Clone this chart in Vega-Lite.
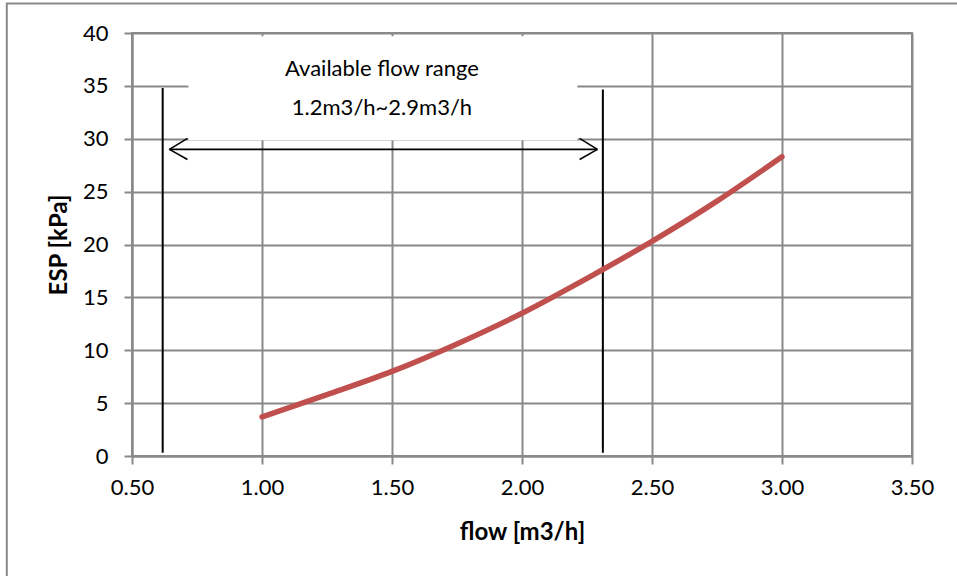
{
  "$schema": "https://vega.github.io/schema/vega-lite/v6.json",
  "autosize": {"type": "none"},
  "width": 780,
  "height": 423,
  "padding": {"left": 132, "top": 33, "right": 45, "bottom": 120},
  "background": "white",
  "config": {
    "font": "Lato",
    "view": {"stroke": "#898989", "strokeWidth": 2},
    "axis": {
      "gridColor": "#898989",
      "gridWidth": 2,
      "gridOpacity": 1,
      "domainColor": "#898989",
      "domainWidth": 2,
      "tickColor": "#898989",
      "tickWidth": 2,
      "tickSize": 8,
      "labelColor": "black",
      "labelFont": "Lato",
      "labelFontSize": 22,
      "labelFlush": false,
      "labelOverlap": false,
      "titleFont": "Lato",
      "titleFontSize": 24,
      "titleFontWeight": "bold",
      "titleColor": "black"
    }
  },
  "datasets": {
    "curve": [
      {"flow": 1.0, "esp": 3.7},
      {"flow": 1.25, "esp": 5.8},
      {"flow": 1.5, "esp": 8.0},
      {"flow": 1.75, "esp": 10.6},
      {"flow": 2.0, "esp": 13.5},
      {"flow": 2.25, "esp": 16.8},
      {"flow": 2.5, "esp": 20.3},
      {"flow": 2.75, "esp": 24.1},
      {"flow": 3.0, "esp": 28.3}
    ],
    "bounds": [
      {"x": 0.618, "y": 0.3, "x2": 0.618, "y2": 34.8},
      {"x": 2.311, "y": 0.3, "x2": 2.311, "y2": 34.65}
    ],
    "arrow": [
      {"x": 0.644, "y": 29.0, "x2": 2.29, "y2": 29.0},
      {"x": 0.644, "y": 29.0, "x2": 0.7135, "y2": 30.03},
      {"x": 0.644, "y": 29.0, "x2": 0.7135, "y2": 28.04},
      {"x": 2.29, "y": 29.0, "x2": 2.2215, "y2": 30.03},
      {"x": 2.29, "y": 29.0, "x2": 2.2215, "y2": 28.04}
    ],
    "box": [
      {"x": 0.717, "x2": 2.213, "y": 39.7, "y2": 29.85}
    ],
    "labels": [
      {"x": 1.4615, "y": 35.9, "text": "Available flow range"},
      {"x": 1.4615, "y": 32.2, "text": "1.2m3/h~2.9m3/h"}
    ]
  },
  "layer": [
    {
      "data": {"name": "box"},
      "mark": {"type": "rect", "fill": "white", "stroke": null},
      "encoding": {
        "x": {"field": "x", "type": "quantitative", "scale": {"domain": [0.5, 3.5], "nice": false, "zero": false},
          "axis": {"values": [0.5, 1.0, 1.5, 2.0, 2.5, 3.0, 3.5], "format": ".2f", "title": "flow [m3/h]", "labelPadding": 13, "titlePadding": 22}},
        "x2": {"field": "x2"},
        "y": {"field": "y", "type": "quantitative", "scale": {"domain": [0, 40], "nice": false},
          "axis": {"values": [0, 5, 10, 15, 20, 25, 30, 35, 40], "format": "d", "title": "ESP [kPa]", "labelPadding": 16, "titlePadding": 11}},
        "y2": {"field": "y2"}
      }
    },
    {
      "data": {"name": "bounds"},
      "mark": {"type": "rule", "color": "black", "strokeWidth": 2},
      "encoding": {
        "x": {"field": "x", "type": "quantitative"},
        "y": {"field": "y", "type": "quantitative"},
        "x2": {"field": "x2"},
        "y2": {"field": "y2"}
      }
    },
    {
      "data": {"name": "arrow"},
      "mark": {"type": "rule", "color": "black", "strokeWidth": 1.6},
      "encoding": {
        "x": {"field": "x", "type": "quantitative"},
        "y": {"field": "y", "type": "quantitative"},
        "x2": {"field": "x2"},
        "y2": {"field": "y2"}
      }
    },
    {
      "data": {"name": "curve"},
      "mark": {"type": "line", "color": "#C0504D", "strokeWidth": 5.5, "strokeCap": "round", "interpolate": "monotone"},
      "encoding": {
        "x": {"field": "flow", "type": "quantitative"},
        "y": {"field": "esp", "type": "quantitative"}
      }
    },
    {
      "data": {"name": "labels"},
      "mark": {"type": "text", "font": "Lato", "fontSize": 22, "color": "black", "align": "center", "baseline": "alphabetic"},
      "encoding": {
        "x": {"field": "x", "type": "quantitative"},
        "y": {"field": "y", "type": "quantitative"},
        "text": {"field": "text"}
      }
    },
    {
      "data": {"values": [{}]},
      "mark": {"type": "rect", "fill": null, "stroke": "#898989", "strokeWidth": 2, "clip": false},
      "encoding": {
        "x": {"datum": 0.0185, "type": "quantitative"},
        "x2": {"datum": 3.75},
        "y": {"datum": 42.79, "type": "quantitative"},
        "y2": {"datum": -14}
      }
    }
  ]
}
